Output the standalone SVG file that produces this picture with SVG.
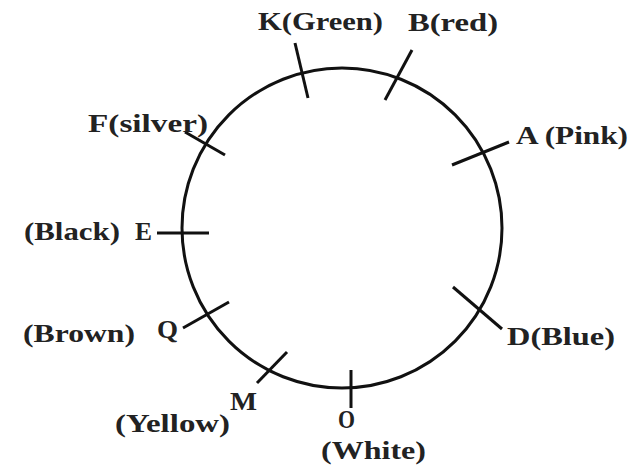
<svg xmlns="http://www.w3.org/2000/svg" width="644" height="467" viewBox="0 0 644 467">
<style>
.lbl{font-family:"Liberation Serif","Times New Roman",serif;font-weight:bold;font-size:26px;fill:#222}
.tick{stroke:#111;stroke-width:3;stroke-linecap:butt}
.ring{fill:none;stroke:#111;stroke-width:3}
</style>
<rect width="644" height="467" fill="#fff"/>
<g id="ring"><circle class="ring" cx="342" cy="228" r="160"/></g>
<g id="connectors">
<line class="tick" x1="295" y1="43" x2="308" y2="98"/>
<line class="tick" x1="412" y1="50" x2="385" y2="100"/>
<line class="tick" x1="509" y1="142" x2="452" y2="165"/>
<line class="tick" x1="453" y1="287" x2="502" y2="329"/>
<line class="tick" x1="351" y1="370" x2="351" y2="408"/>
<line class="tick" x1="257" y1="383" x2="287" y2="352"/>
<line class="tick" x1="183" y1="328" x2="229" y2="302"/>
<line class="tick" x1="157" y1="233" x2="209" y2="233"/>
<line class="tick" x1="185" y1="132" x2="225" y2="155"/>
</g>
<g id="K"><text class="lbl" x="258" y="30" textLength="125" lengthAdjust="spacingAndGlyphs">K(Green)</text></g>
<g id="B"><text class="lbl" x="408" y="31" textLength="90" lengthAdjust="spacingAndGlyphs">B(red)</text></g>
<g id="A"><text class="lbl" x="516" y="144" textLength="112" lengthAdjust="spacingAndGlyphs">A (Pink)</text></g>
<g id="D"><text class="lbl" x="507" y="345" textLength="108" lengthAdjust="spacingAndGlyphs">D(Blue)</text></g>
<g id="O"><text class="lbl" x="338" y="428" textLength="17" lengthAdjust="spacingAndGlyphs">O</text><text class="lbl" x="321" y="459" textLength="105" lengthAdjust="spacingAndGlyphs">(White)</text></g>
<g id="M"><text class="lbl" x="230" y="410" textLength="27" lengthAdjust="spacingAndGlyphs">M</text><text class="lbl" x="115" y="432" textLength="115" lengthAdjust="spacingAndGlyphs">(Yellow)</text></g>
<g id="Q"><text class="lbl" x="23" y="342" textLength="112" lengthAdjust="spacingAndGlyphs">(Brown)</text><text class="lbl" x="157" y="338" textLength="21" lengthAdjust="spacingAndGlyphs">Q</text></g>
<g id="E"><text class="lbl" x="24" y="240" textLength="96" lengthAdjust="spacingAndGlyphs">(Black)</text><text class="lbl" x="135" y="240" textLength="17" lengthAdjust="spacingAndGlyphs">E</text></g>
<g id="F"><text class="lbl" x="88" y="132" textLength="120" lengthAdjust="spacingAndGlyphs">F(silver)</text></g>
</svg>
